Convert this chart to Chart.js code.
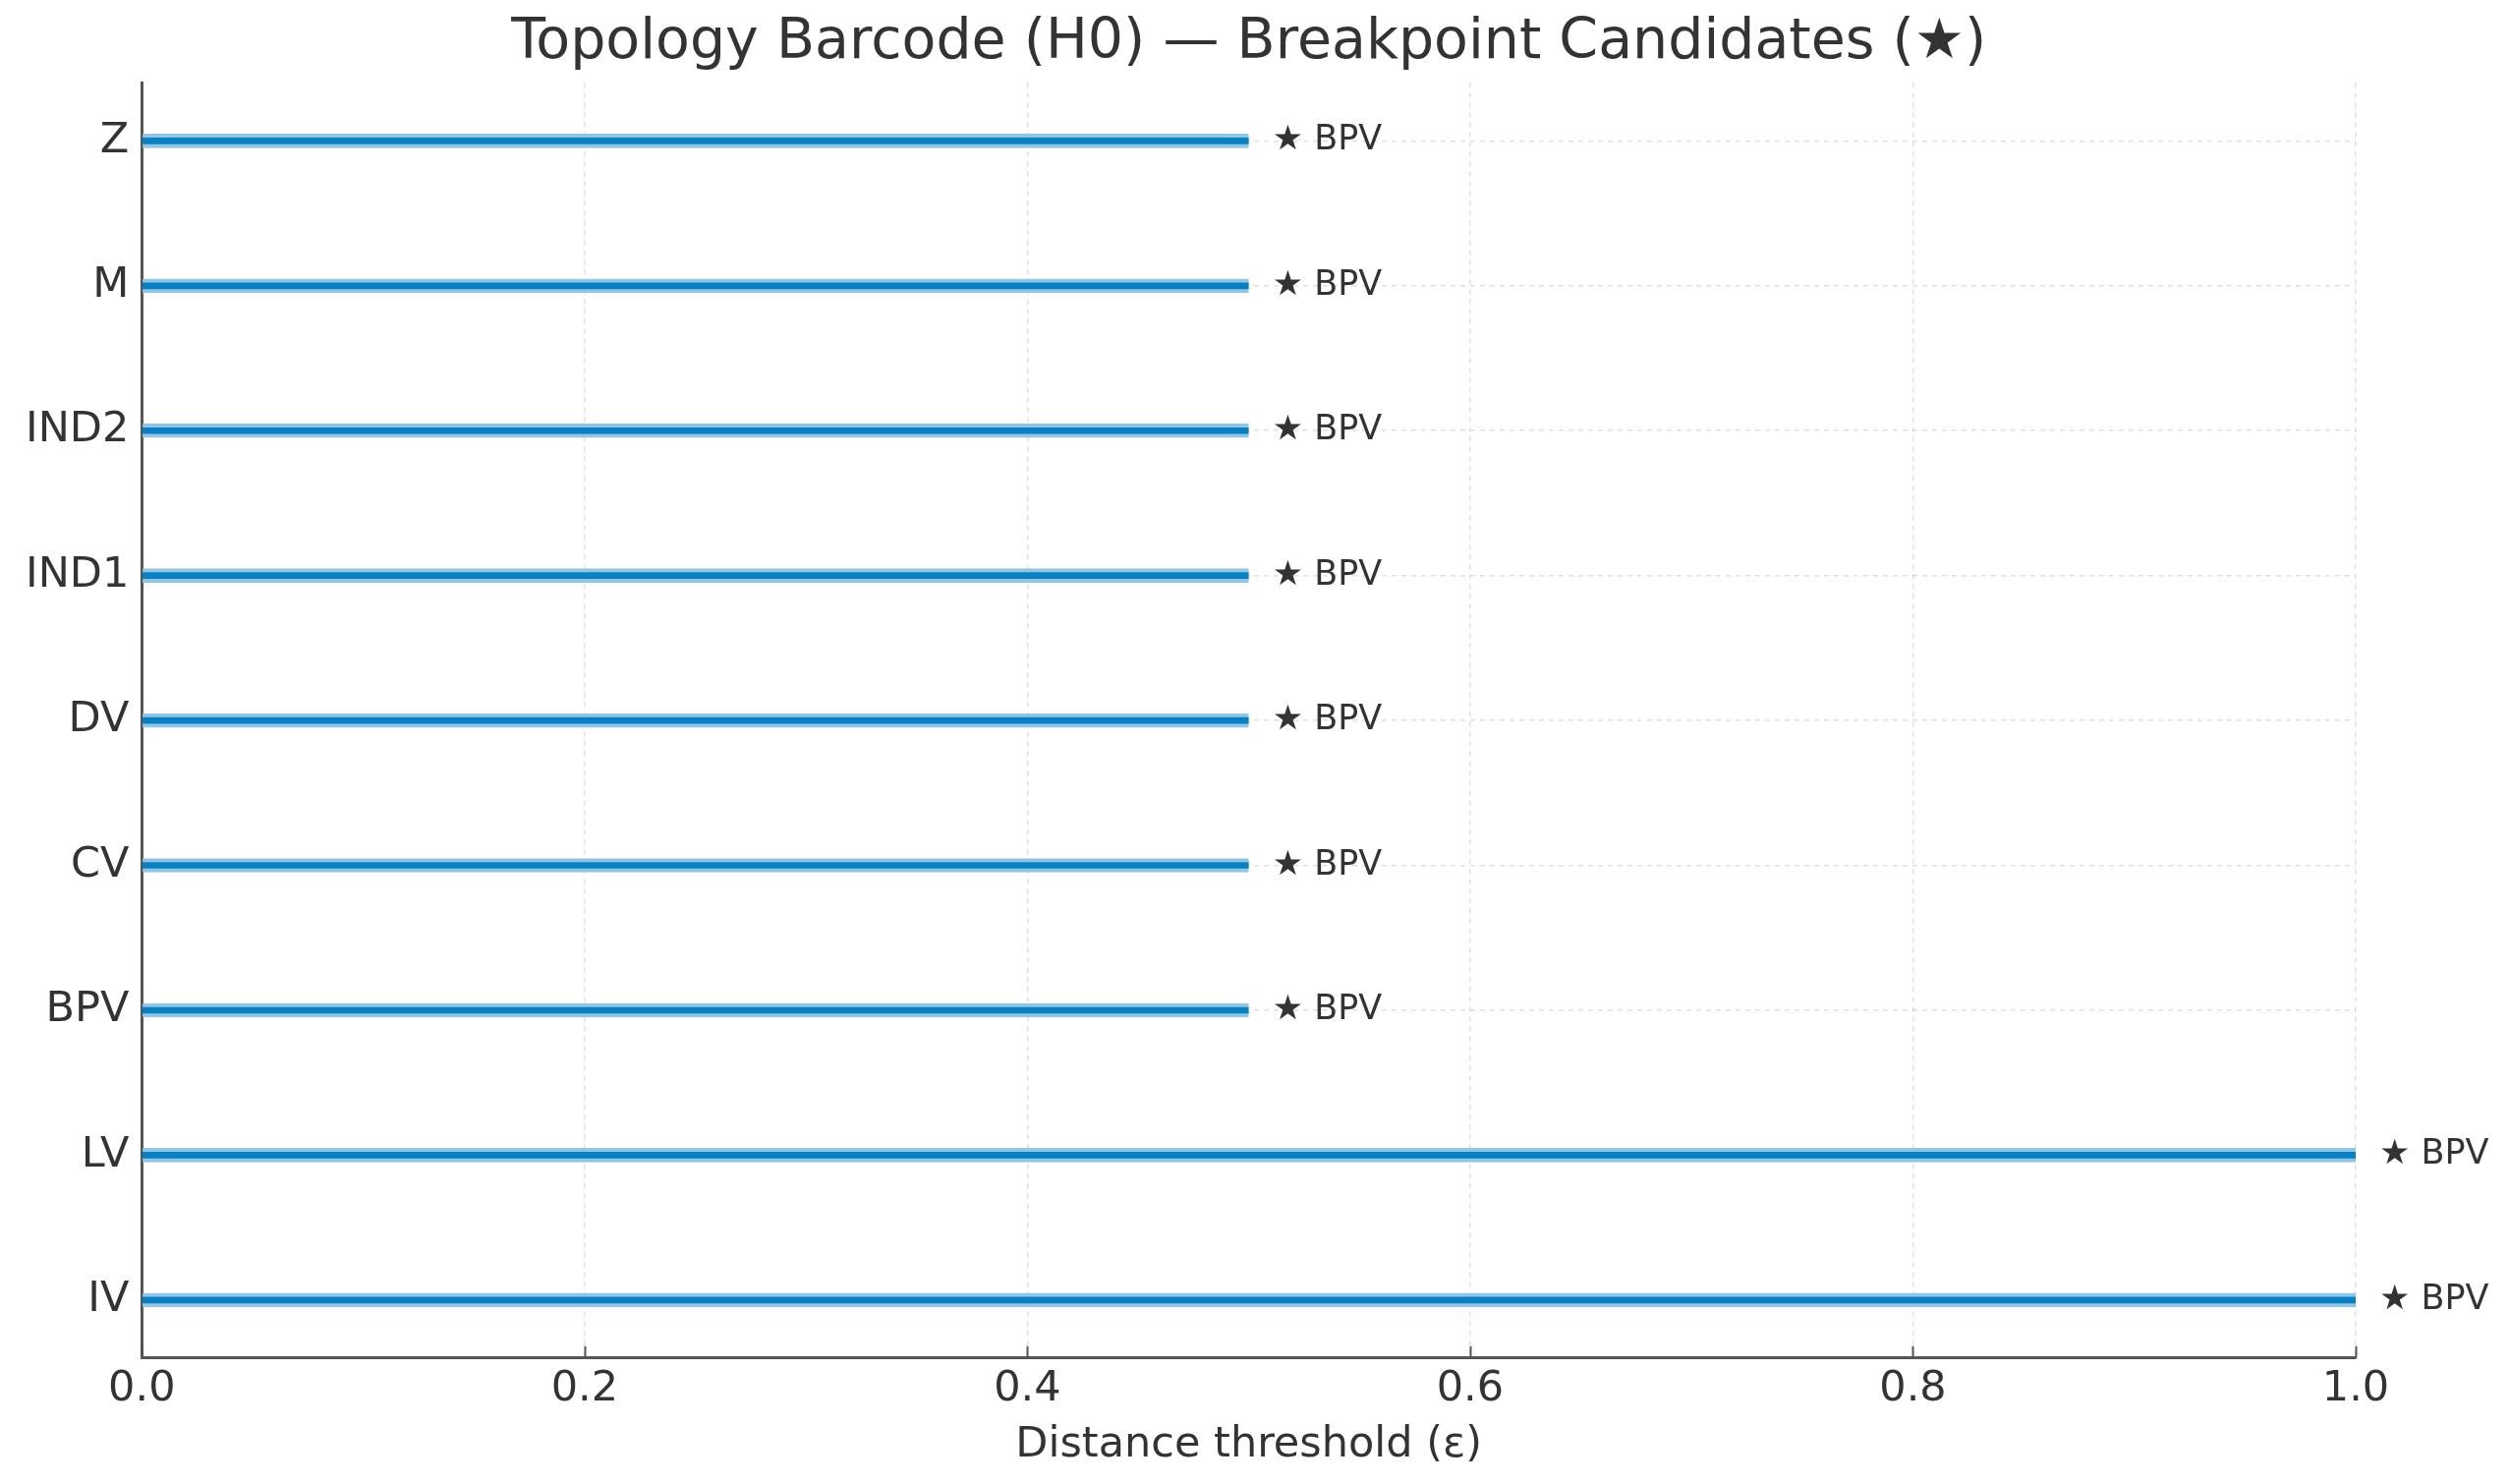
<!DOCTYPE html>
<html>
<head>
<meta charset="utf-8">
<script src="https://cdn.jsdelivr.net/npm/chart.js@4.4.1/dist/chart.umd.min.js"></script>
<style>
  html, body { margin: 0; padding: 0; background: #fff; }
  #wrap { width: 2553px; height: 1510px; }
</style>
</head>
<body>
<div id="wrap"><canvas id="barcode"></canvas></div>
<script>
// rows from bottom to top, as in the picture
const rows = ['IV', 'LV', 'BPV', 'CV', 'DV', 'IND1', 'IND2', 'M', 'Z'];
const births = [0, 0, 0, 0, 0, 0, 0, 0, 0];
const deaths = [1.0, 1.0, 0.5, 0.5, 0.5, 0.5, 0.5, 0.5, 0.5];
const notes = ['★ BPV', '★ BPV', '★ BPV', '★ BPV', '★ BPV', '★ BPV', '★ BPV', '★ BPV', '★ BPV'];
const xTicks = [0, 0.2, 0.4, 0.6, 0.8, 1.0];

const font = "'DejaVu Sans', 'Liberation Sans', sans-serif";
const ink = '#333';
const spine = '#555';

// star notes after each bar + the little inward ticks on the x axis
const extras = {
    id: 'extras',
    afterDatasetsDraw(chart) {
        const ctx = chart.ctx;
        const x = chart.scales.x;
        const y = chart.scales.y;
        ctx.save();
        ctx.fillStyle = ink;
        ctx.font = '35px ' + font;
        ctx.textAlign = 'left';
        ctx.textBaseline = 'middle';
        rows.forEach((r, i) => {
            ctx.fillText(notes[i], x.getPixelForValue(deaths[i]) + 24, y.getPixelForValue(i));
        });
        ctx.strokeStyle = spine;
        ctx.lineWidth = 2;
        xTicks.forEach(v => {
            let px = Math.round(x.getPixelForValue(v)) + 0.5;
            ctx.beginPath();
            ctx.moveTo(px, y.bottom);
            ctx.lineTo(px, y.bottom - 12);
            ctx.stroke();
        });
        ctx.restore();
    }
};

document.addEventListener('DOMContentLoaded', function() {
    let ctx = document.getElementById('barcode');
    let bars = rows.map((r, i) => ({ y: i, x: [births[i], deaths[i]] }));

    new Chart(ctx, {
        type: 'bar',
        data: {
            datasets: [{
                data: bars,
                backgroundColor: '#0a7fc2',
                borderColor: '#8fc6e6',
                borderWidth: { top: 4, bottom: 4, left: 0, right: 0 },
                borderSkipped: false,
                barThickness: 14
            }]
        },
        plugins: [extras],
        options: {
            indexAxis: 'y',
            responsive: true,
            maintainAspectRatio: false,
            animation: false,
            layout: { padding: { left: 13, right: 156, top: 0, bottom: 13 } },
            plugins: {
                legend: { display: false },
                tooltip: { enabled: false },
                title: {
                    display: true,
                    fullSize: false,
                    text: 'Topology Barcode (H0) — Breakpoint Candidates (★)',
                    color: ink,
                    font: { family: font, size: 57, weight: 'normal' },
                    padding: { top: 10, bottom: 6 }
                }
            },
            scales: {
                x: {
                    type: 'linear',
                    min: 0,
                    max: 1,
                    afterBuildTicks: axis => { axis.ticks = xTicks.map(v => ({ value: v })); },
                    ticks: {
                        color: ink,
                        padding: 6,
                        font: { family: font, size: 43 },
                        callback: v => v.toFixed(1)
                    },
                    grid: {
                        color: 'rgba(0,0,0,0.12)',
                        lineWidth: 1.5,
                        drawTicks: false
                    },
                    border: { display: true, color: spine, width: 3, dash: [5, 5] },
                    title: {
                        display: true,
                        text: 'Distance threshold (ε)',
                        color: ink,
                        font: { family: font, size: 43 },
                        padding: { top: 0, bottom: 0 }
                    }
                },
                y: {
                    type: 'linear',
                    min: -0.4,
                    max: 8.4,
                    offset: false,
                    afterBuildTicks: axis => { axis.ticks = rows.map((r, i) => ({ value: i })); },
                    ticks: {
                        color: ink,
                        padding: 13,
                        font: { family: font, size: 43 },
                        callback: v => rows[v]
                    },
                    grid: {
                        offset: false,
                        color: 'rgba(0,0,0,0.12)',
                        lineWidth: 1.5,
                        drawTicks: false
                    },
                    border: { display: true, color: spine, width: 3, dash: [5, 5] }
                }
            }
        }
    });
});
</script>
</body>
</html>
